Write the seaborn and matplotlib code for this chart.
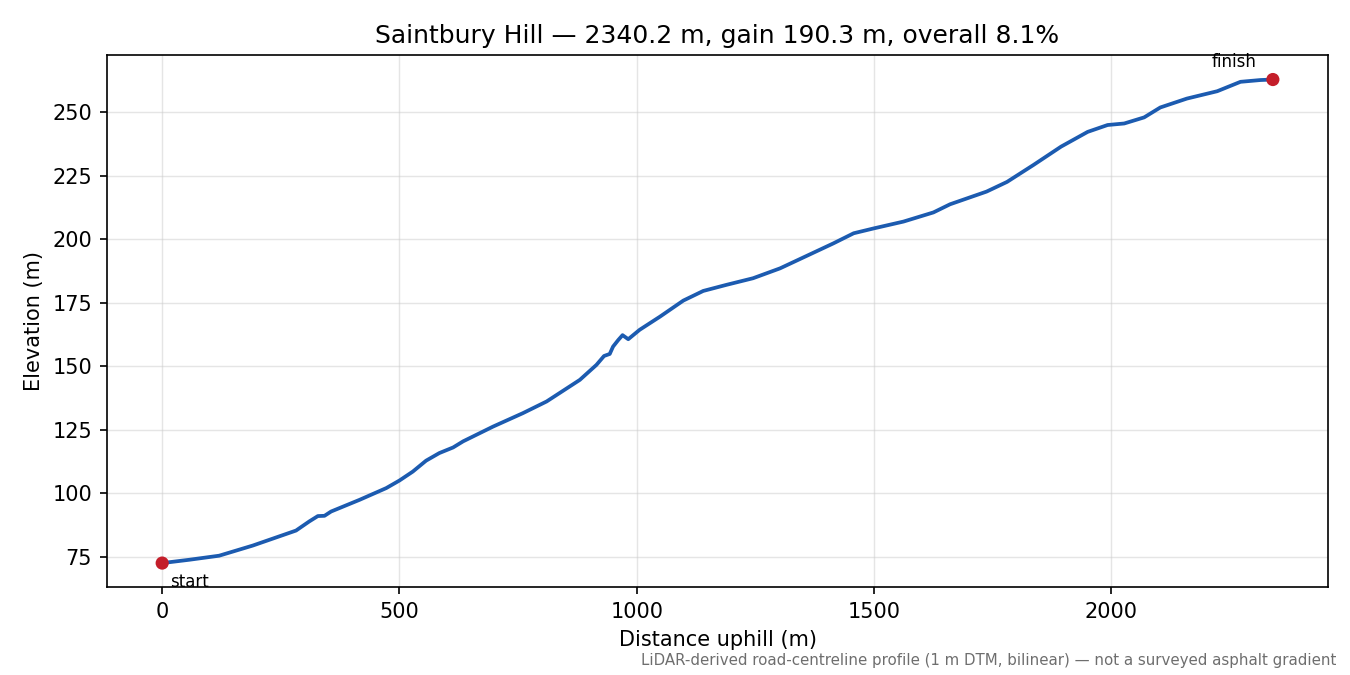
import numpy as np
import pandas as pd
import seaborn as sns
import matplotlib.pyplot as plt

# profile (distance along road, elevation)
distance = [0, 57, 120, 191, 282, 310, 328, 342, 356, 416, 472, 500, 528, 556,
            584, 613, 634, 697, 760, 810, 880, 915, 931, 943, 950, 961, 970,
            982, 1006, 1049, 1098, 1140, 1189, 1245, 1302, 1358, 1414, 1457,
            1499, 1562, 1625, 1660, 1737, 1780, 1836, 1894, 1950, 1992, 2027,
            2069, 2103, 2159, 2223, 2272, 2314, 2340.2]
elevation = [72.5, 73.8, 75.4, 79.4, 85.3, 88.9, 91.0, 91.1, 92.8, 97.4, 102.0,
             105.0, 108.5, 112.8, 115.8, 118.0, 120.4, 126.2, 131.5, 136.1,
             144.6, 150.5, 154.0, 154.8, 157.7, 160.3, 162.2, 160.6, 164.3,
             169.5, 175.8, 179.6, 182.0, 184.6, 188.5, 193.4, 198.3, 202.3,
             204.2, 206.9, 210.5, 213.7, 218.7, 222.5, 229.2, 236.4, 242.2,
             244.9, 245.5, 247.9, 251.8, 255.3, 258.2, 261.9, 262.6, 262.8]
end_labels = ["start", "finish"]

df = pd.DataFrame({"distance": distance, "elevation": elevation})
ends = df.iloc[[0, -1]].copy()
ends["label"] = end_labels

fig, ax = plt.subplots(figsize=(9, 4.5), dpi=150)
sns.lineplot(data=df, x="distance", y="elevation", color="#1c5bb0", linewidth=1.8, ax=ax)
sns.scatterplot(data=ends, x="distance", y="elevation", color="#c41e2a", s=40,
                edgecolor="none", zorder=5, ax=ax)

ax.annotate(ends["label"].iloc[0], (ends["distance"].iloc[0], ends["elevation"].iloc[0]),
            xytext=(4, -5), textcoords="offset points", ha="left", va="top", fontsize=8)
ax.annotate(ends["label"].iloc[1], (ends["distance"].iloc[1], ends["elevation"].iloc[1]),
            xytext=(-8, 4), textcoords="offset points", ha="right", va="bottom", fontsize=8)

ax.grid(True, color="#cccccc", alpha=0.5, linewidth=0.7)
ax.set_xlabel("Distance uphill (m)")
ax.set_ylabel("Elevation (m)")
gain = elevation[-1] - elevation[0]
ax.set_title(f"Saintbury Hill \u2014 {distance[-1]:.1f} m, gain {gain:.1f} m, overall {gain / distance[-1] * 100:.1f}%")
fig.text(0.99, 0.011, "LiDAR-derived road-centreline profile (1 m DTM, bilinear) \u2014 not a surveyed asphalt gradient",
         ha="right", va="bottom", fontsize=7.2, color="#6e6e6e")

fig.subplots_adjust(left=0.079, right=0.984, top=0.918, bottom=0.13)
fig.savefig("out.png")
